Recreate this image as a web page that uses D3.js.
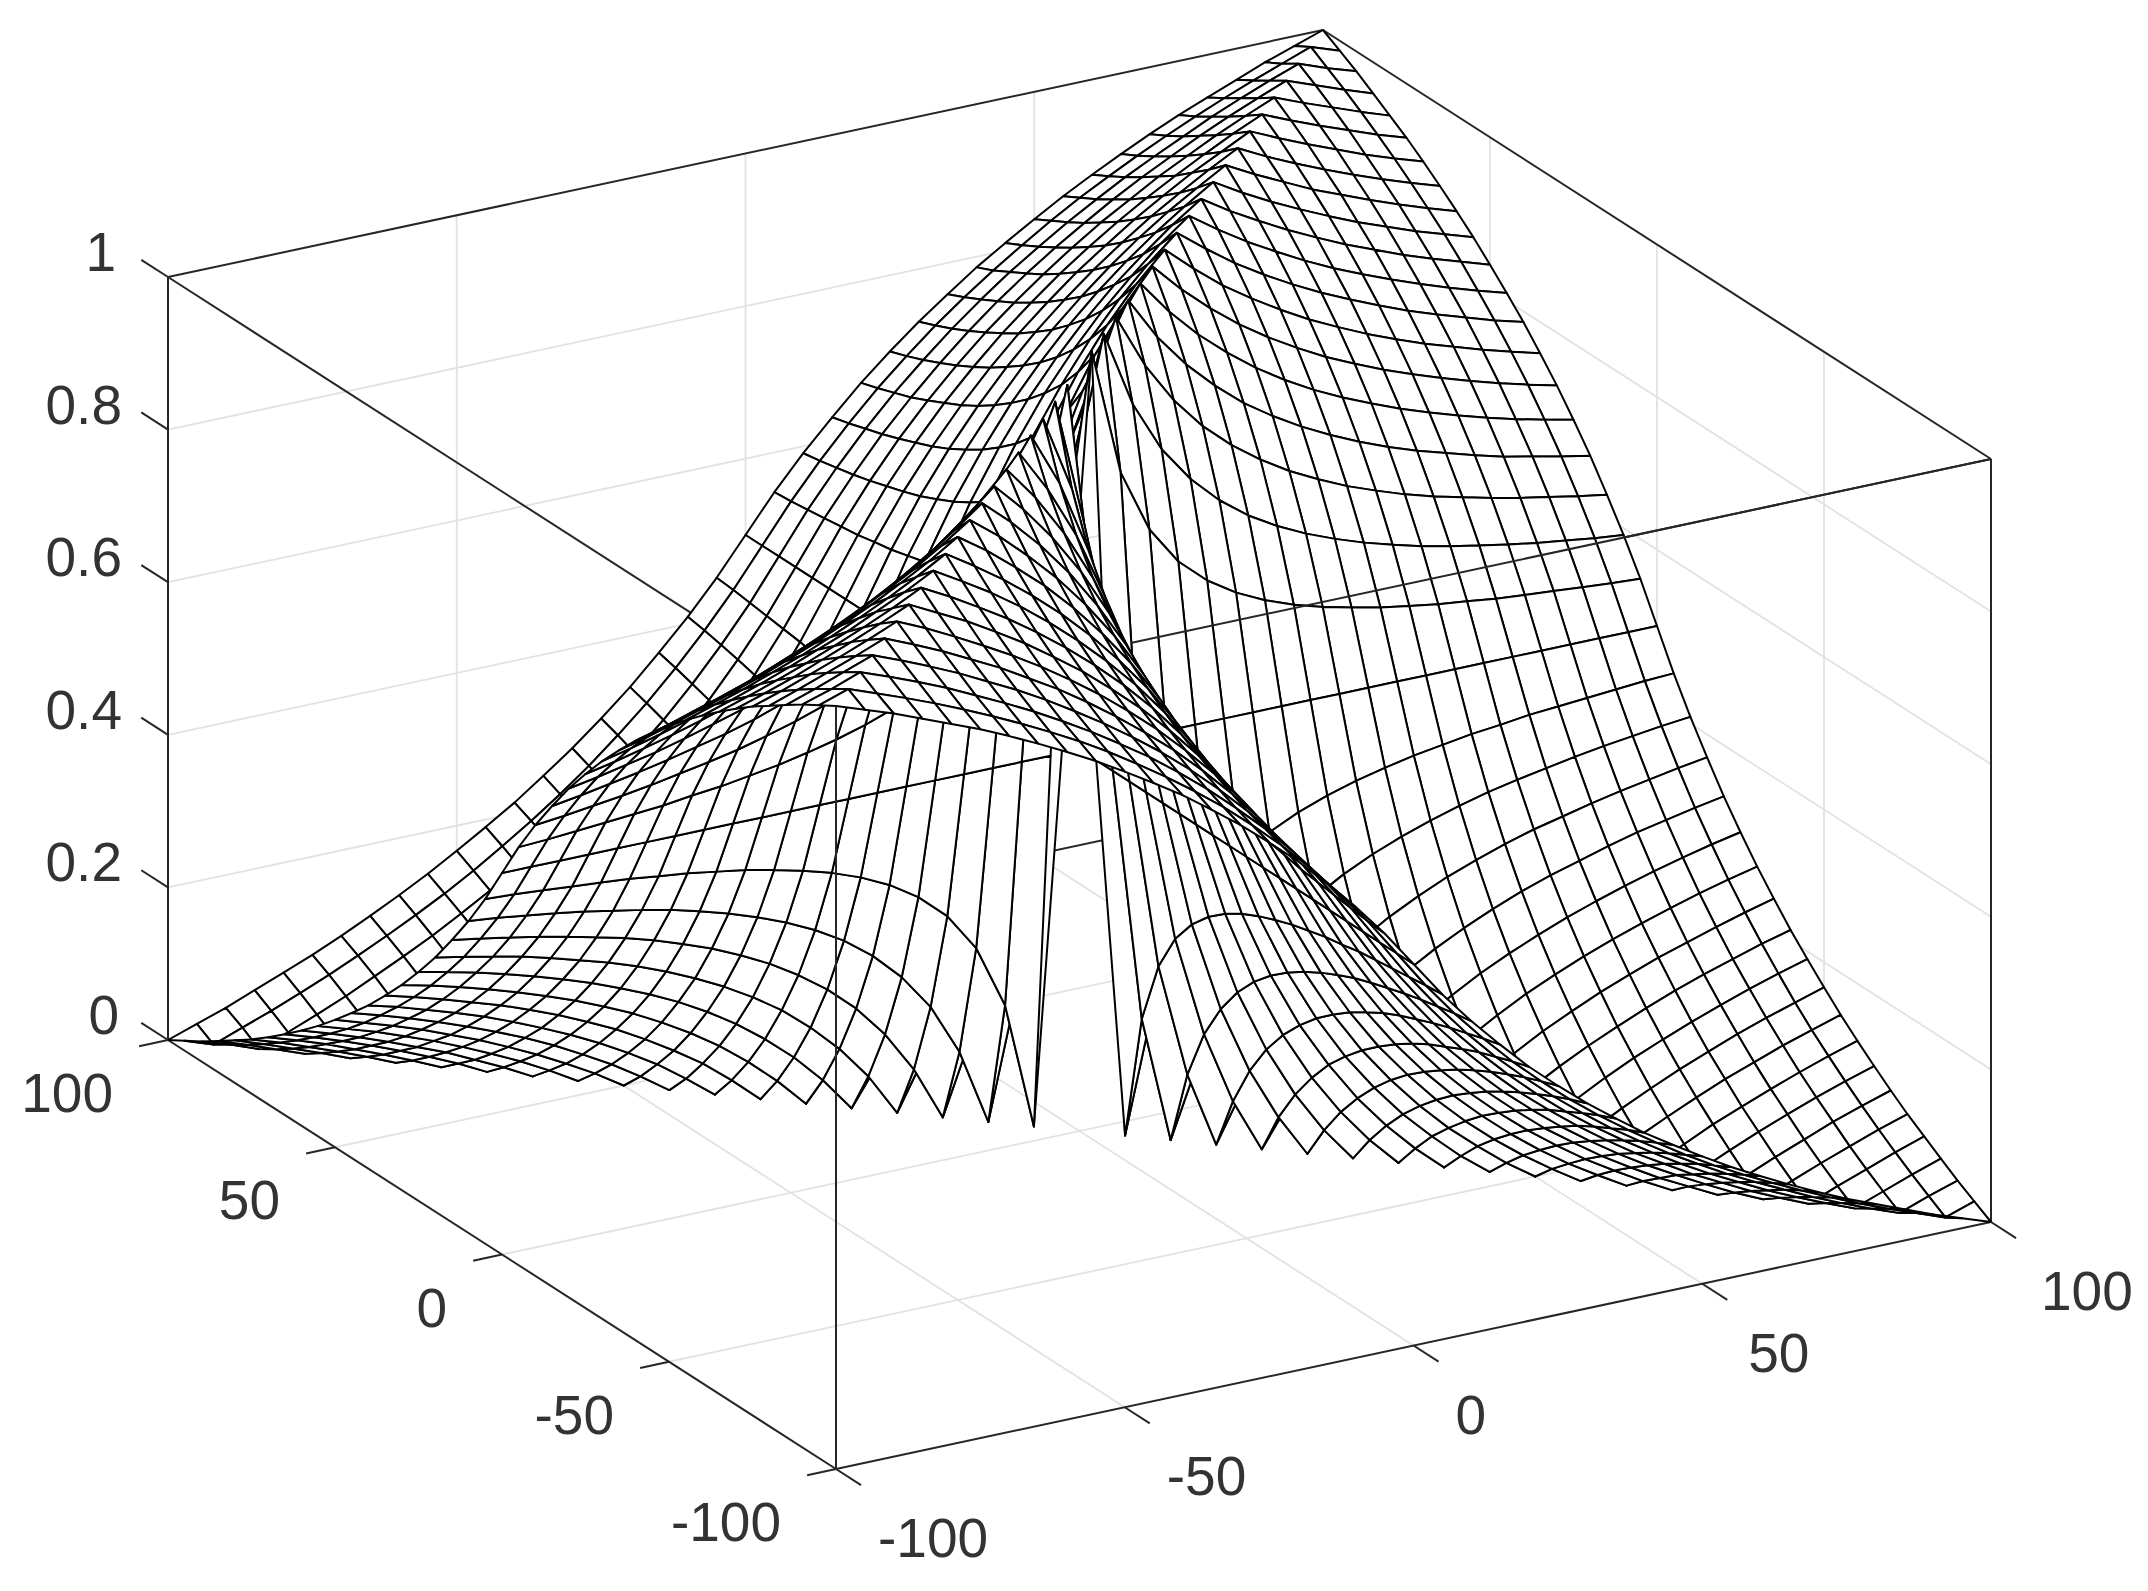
<!DOCTYPE html>
<html>
<head>
<meta charset="utf-8">
<script src="https://cdn.jsdelivr.net/npm/d3@7"></script>
<style>
html,body{margin:0;padding:0;background:#fff}
svg{display:block}
text{font-family:"Liberation Sans",Arial,sans-serif;font-size:55px;fill:#333}
</style>
</head>
<body>
<svg id="chart" width="2148" height="1591"></svg>
<script>
// Axis ticks
const xTicks = [-100, -50, 0, 50, 100];
const yTicks = [-100, -50, 0, 50, 100];
const zTicks = [0, 0.2, 0.4, 0.6, 0.8, 1];
const xTickLabels = ["-100", "-50", "0", "50", "100"];
const yTickLabels = ["-100", "-50", "0", "50", "100"];
const zTickLabels = ["0", "0.2", "0.4", "0.6", "0.8", "1"];

// Mesh column positions (x = -100 ... 100, 41 lines).
const meshX = [-100,-95,-90,-85,-80,-75,-70,-65,-60,-55,-50,-45,-40,-35,-30,-25,-20,-15,-10,-5,0,5,10,15,20,25,30,35,40,45,50,55,60,65,70,75,80,85,90,95,100];

// Surface heights per mesh row, one value per meshX entry. These are estimates,
// not per-cell readings: heights were measured at mesh nodes along the visible
// outer edges of the reference, a hand-fitted curve through them was tabulated,
// and it was extended inward assuming height is constant along rays from the
// centre (spot-checked on one interior arc). Rows y<0 are taken as the point
// mirror of rows y>0.
const zY000 = [.5,.5,.5,.5,.5,.5,.5,.5,.5,.5,.5,.5,.5,.5,.5,.5,.5,.5,.5,.5,null,.5,.5,.5,.5,.5,.5,.5,.5,.5,.5,.5,.5,.5,.5,.5,.5,.5,.5,.5,.5];
const zY005 = [.452,.45,.447,.444,.441,.438,.433,.429,.423,.417,.409,.4,.389,.375,.357,.333,.3,.25,.167,0,.5,1,.833,.75,.7,.667,.643,.625,.611,.6,.591,.583,.577,.571,.567,.562,.559,.556,.553,.55,.548];
const zY010 = [.409,.405,.4,.395,.389,.382,.375,.367,.357,.346,.333,.318,.3,.278,.25,.214,.167,.1,0,.167,.5,.833,1,.9,.833,.786,.75,.722,.7,.682,.667,.654,.643,.633,.625,.618,.611,.605,.6,.595,.591];
const zY015 = [.37,.364,.357,.35,.342,.333,.324,.313,.3,.286,.269,.25,.227,.2,.167,.125,.071,0,.1,.25,.5,.75,.9,1,.929,.875,.833,.8,.773,.75,.731,.714,.7,.687,.676,.667,.658,.65,.643,.636,.63];
const zY020 = [.333,.326,.318,.31,.3,.289,.278,.265,.25,.233,.214,.192,.167,.136,.1,.056,0,.071,.167,.3,.5,.7,.833,.929,1,.944,.9,.864,.833,.808,.786,.767,.75,.735,.722,.711,.7,.69,.682,.674,.667];
const zY025 = [.3,.292,.283,.273,.262,.25,.237,.222,.206,.188,.167,.143,.115,.083,.045,0,.056,.125,.214,.333,.5,.667,.786,.875,.944,1,.955,.917,.885,.857,.833,.812,.794,.778,.763,.75,.738,.727,.717,.708,.7];
const zY030 = [.269,.26,.25,.239,.227,.214,.2,.184,.167,.147,.125,.1,.071,.038,0,.045,.1,.167,.25,.357,.5,.643,.75,.833,.9,.955,1,.962,.929,.9,.875,.853,.833,.816,.8,.786,.773,.761,.75,.74,.731];
const zY035 = [.241,.231,.22,.208,.196,.182,.167,.15,.132,.111,.088,.063,.033,0,.038,.083,.136,.2,.278,.375,.5,.625,.722,.8,.864,.917,.962,1,.967,.937,.912,.889,.868,.85,.833,.818,.804,.792,.78,.769,.759];
const zY040 = [.214,.204,.192,.18,.167,.152,.136,.119,.1,.079,.056,.029,0,.033,.071,.115,.167,.227,.3,.389,.5,.611,.7,.773,.833,.885,.929,.967,1,.971,.944,.921,.9,.881,.864,.848,.833,.82,.808,.796,.786];
const zY045 = [.19,.179,.167,.154,.14,.125,.109,.091,.071,.05,.026,0,.029,.063,.1,.143,.192,.25,.318,.4,.5,.6,.682,.75,.808,.857,.9,.937,.971,1,.974,.95,.929,.909,.891,.875,.86,.846,.833,.821,.81];
const zY050 = [.167,.155,.143,.13,.115,.1,.083,.065,.045,.024,0,.026,.056,.088,.125,.167,.214,.269,.333,.409,.5,.591,.667,.731,.786,.833,.875,.912,.944,.974,1,.976,.955,.935,.917,.9,.885,.87,.857,.845,.833];
const zY055 = [.145,.133,.121,.107,.093,.077,.06,.042,.022,0,.024,.05,.079,.111,.147,.188,.233,.286,.346,.417,.5,.583,.654,.714,.767,.812,.853,.889,.921,.95,.976,1,.978,.958,.94,.923,.907,.893,.879,.867,.855];
const zY060 = [.125,.113,.1,.086,.071,.056,.038,.02,0,.022,.045,.071,.1,.132,.167,.206,.25,.3,.357,.423,.5,.577,.643,.7,.75,.794,.833,.868,.9,.929,.955,.978,1,.98,.962,.944,.929,.914,.9,.887,.875];
const zY065 = [.106,.094,.081,.067,.052,.036,.019,0,.02,.042,.065,.091,.119,.15,.184,.222,.265,.313,.367,.429,.5,.571,.633,.687,.735,.778,.816,.85,.881,.909,.935,.958,.98,1,.981,.964,.948,.933,.919,.906,.894];
const zY070 = [.088,.076,.063,.048,.033,.017,0,.019,.038,.06,.083,.109,.136,.167,.2,.237,.278,.324,.375,.433,.5,.567,.625,.676,.722,.763,.8,.833,.864,.891,.917,.94,.962,.981,1,.983,.967,.952,.937,.924,.912];
const zY075 = [.071,.059,.045,.031,.016,0,.017,.036,.056,.077,.1,.125,.152,.182,.214,.25,.289,.333,.382,.438,.5,.562,.618,.667,.711,.75,.786,.818,.848,.875,.9,.923,.944,.964,.983,1,.984,.969,.955,.941,.929];
const zY080 = [.056,.043,.029,.015,0,.016,.033,.052,.071,.093,.115,.14,.167,.196,.227,.262,.3,.342,.389,.441,.5,.559,.611,.658,.7,.738,.773,.804,.833,.86,.885,.907,.929,.948,.967,.984,1,.985,.971,.957,.944];
const zY085 = [.041,.028,.014,0,.015,.031,.048,.067,.086,.107,.13,.154,.18,.208,.239,.273,.31,.35,.395,.444,.5,.556,.605,.65,.69,.727,.761,.792,.82,.846,.87,.893,.914,.933,.952,.969,.985,1,.986,.972,.959];
const zY090 = [.026,.014,0,.014,.029,.045,.063,.081,.1,.121,.143,.167,.192,.22,.25,.283,.318,.357,.4,.447,.5,.553,.6,.643,.682,.717,.75,.78,.808,.833,.857,.879,.9,.919,.937,.955,.971,.986,1,.986,.974];
const zY095 = [.013,0,.014,.028,.043,.059,.076,.094,.113,.133,.155,.179,.204,.231,.26,.292,.326,.364,.405,.45,.5,.55,.595,.636,.674,.708,.74,.769,.796,.821,.845,.867,.887,.906,.924,.941,.957,.972,.986,1,.987];
const zY100 = [0,.013,.026,.041,.056,.071,.088,.106,.125,.145,.167,.19,.214,.241,.269,.3,.333,.37,.409,.452,.5,.548,.591,.63,.667,.7,.731,.759,.786,.81,.833,.855,.875,.894,.912,.929,.944,.959,.974,.987,1];

const upperRows = [zY005,zY010,zY015,zY020,zY025,zY030,zY035,zY040,zY045,zY050,zY055,zY060,zY065,zY070,zY075,zY080,zY085,zY090,zY095,zY100];
const lowerRows = upperRows.slice().reverse().map(r => r.slice().reverse());
const zRows = [...lowerRows, zY000, ...upperRows];   // index 0 is y = -100
const meshY = meshX;

// Oblique projection of the plotting box, expressed as d3 scales
const ORIGIN = {x: 836, y: 1469};
const xToPx = d3.scaleLinear().domain([-100, 100]).range([0, 1155]);
const xToPy = d3.scaleLinear().domain([-100, 100]).range([0, -247]);
const yToPx = d3.scaleLinear().domain([-100, 100]).range([0, -668]);
const yToPy = d3.scaleLinear().domain([-100, 100]).range([0, -429]);
const zToPy = d3.scaleLinear().domain([0, 1]).range([0, -763]);
const project = (x, y, z) => [
  ORIGIN.x + xToPx(x) + yToPx(y),
  ORIGIN.y + xToPy(x) + yToPy(y) + zToPy(z)
];

const svg = d3.select("#chart");
const line3 = d3.line();
const seg = (a, b) => line3([project(...a), project(...b)]);

// Grid on floor and back walls
const gridSegs = [];
[-50, 0, 50].forEach(v => {
  gridSegs.push([[v, -100, 0], [v, 100, 0]]);
  gridSegs.push([[-100, v, 0], [100, v, 0]]);
  gridSegs.push([[v, 100, 0], [v, 100, 1]]);
  gridSegs.push([[100, v, 0], [100, v, 1]]);
});
zTicks.slice(1, -1).forEach(z => {
  gridSegs.push([[-100, 100, z], [100, 100, z]]);
  gridSegs.push([[100, -100, z], [100, 100, z]]);
});
svg.append("g").selectAll("path").data(gridSegs).join("path")
  .attr("d", d => seg(d[0], d[1]))
  .attr("fill", "none").attr("stroke", "#e2e2e2").attr("stroke-width", 1.8);

// Box edges behind the mesh
const boxBack = [
  [[-100,100,0],[100,100,0]], [[100,100,0],[100,-100,0]],
  [[-100,100,1],[100,100,1]], [[100,100,1],[100,-100,1]],
  [[-100,-100,1],[-100,100,1]], [[-100,-100,1],[100,-100,1]],
  [[100,100,0],[100,100,1]],
  [[-100,100,0],[-100,100,1]], [[100,-100,0],[100,-100,1]],
  [[-100,-100,0],[100,-100,0]], [[-100,-100,0],[-100,100,0]]
];
const boxStyle = s => s.attr("fill", "none").attr("stroke", "#262626").attr("stroke-width", 2);
svg.append("g").selectAll("path").data(boxBack).join("path")
  .attr("d", d => seg(d[0], d[1])).call(boxStyle);

// Mesh cells, painted far to near with white faces so hidden lines disappear
const cells = [];
for (let j = meshY.length - 2; j >= 0; j--) {
  for (let i = meshX.length - 2; i >= 0; i--) {
    const c = [[i, j], [i + 1, j], [i + 1, j + 1], [i, j + 1]];
    if (c.some(([a, b]) => zRows[b][a] === null)) continue;
    cells.push(c.map(([a, b]) => project(meshX[a], meshY[b], zRows[b][a])));
  }
}
svg.append("g").selectAll("path").data(cells).join("path")
  .attr("d", d => d3.line()(d) + "Z")
  .attr("fill", "#fff").attr("stroke", "#000").attr("stroke-width", 2)
  .attr("stroke-linejoin", "round");

// Box edges seen in front of the mesh
const boxFront = [
  [[-100,-100,0],[-100,-100,1]],
  [[-49,-100,1],[100,-100,1]]
];
svg.append("g").selectAll("path").data(boxFront).join("path")
  .attr("d", d => seg(d[0], d[1])).call(boxStyle);

// Ticks
const tickSegs = [
  ...xTicks.map(v => [[v, -100, 0], [v, -107.5, 0]]),
  ...yTicks.map(v => [[-100, v, 0], [-105, v, 0]]),
  ...zTicks.map(v => [[-100, 100, v], [-100, 108, v]])
];
svg.append("g").selectAll("path").data(tickSegs).join("path")
  .attr("d", d => seg(d[0], d[1])).call(boxStyle);

// Tick labels
const labels = svg.append("g");
labels.selectAll(".xl").data(xTicks).join("text").attr("class", "xl")
  .attr("x", d => project(d, -100, 0)[0] + 42 + Math.max(0, d) * 0.08)
  .attr("y", d => project(d, -100, 0)[1] + 88)
  .attr("text-anchor", "start").text((d, i) => xTickLabels[i]);
labels.selectAll(".yl").data(yTicks).join("text").attr("class", "yl")
  .attr("x", d => project(-100, d, 0)[0] - 55)
  .attr("y", d => project(-100, d, 0)[1] + 72)
  .attr("text-anchor", "end").text((d, i) => yTickLabels[i]);
labels.selectAll(".zl").data(zTicks).join("text").attr("class", "zl")
  .attr("x", d => d === 1 ? 116 : d === 0 ? 119 : 122)
  .attr("y", d => project(-100, 100, d)[1] - 6)
  .attr("text-anchor", "end").text((d, i) => zTickLabels[i]);
</script>
</body>
</html>
